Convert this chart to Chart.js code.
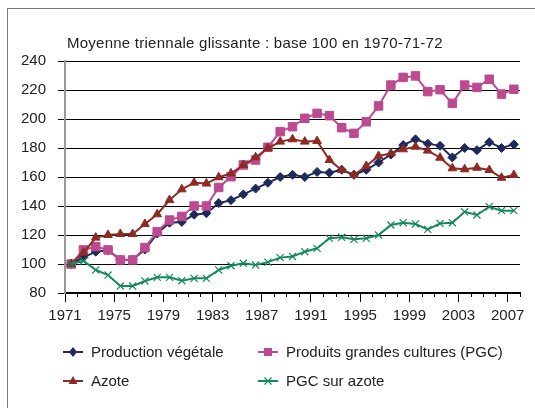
<!DOCTYPE html>
<html>
<head>
<meta charset="utf-8">
<script src="https://cdn.jsdelivr.net/npm/chart.js@4"></script>
<style>
  html, body { margin: 0; padding: 0; background: #fff; }
  #wrap { position: relative; width: 535px; height: 408px; overflow: hidden;
          font-family: "Liberation Sans", Arial, sans-serif; color: #222; }
  #frame { position: absolute; left: 7px; top: 8px; right: -5px; bottom: -5px;
           border: 1px solid #777; }
  #title { position: absolute; left: 67px; top: 34px; font-size: 15px; letter-spacing: 0.25px; white-space: nowrap; }
  #legend { position: absolute; left: 0; top: 0; width: 535px; height: 408px; pointer-events: none; }
  .leg { position: absolute; font-size: 15px; white-space: nowrap; display: flex; align-items: center; }
  .leg svg { margin-right: 8px; }
  canvas { position: absolute; left: 0; top: 0; }
</style>
</head>
<body>
<div id="wrap">
  <div id="frame"></div>
  <canvas id="chart" width="535" height="408"></canvas>
  <div id="title">Moyenne triennale glissante : base 100 en 1970-71-72</div>
  <div id="legend"></div>
</div>
<script>
const years = [1971, 1972, 1973, 1974, 1975, 1976, 1977, 1978, 1979, 1980,
  1981, 1982, 1983, 1984, 1985, 1986, 1987, 1988, 1989, 1990,
  1991, 1992, 1993, 1994, 1995, 1996, 1997, 1998, 1999, 2000,
  2001, 2002, 2003, 2004, 2005, 2006, 2007];

const productionVegetale = [100, 104.6, 108.5, 109.5, 103, 103, 110, 121, 128.5, 129,
  134, 135, 142, 144, 148, 152, 156, 160, 161.5, 160,
  163.5, 163, 165, 161.5, 165, 170, 175.5, 182, 186, 183,
  181.5, 173.5, 180, 178.5, 184, 180, 182.5];

const produitsGC = [100, 109.7, 112, 109.7, 102.8, 102.8, 111.3, 122.3, 130.3, 132.8,
  140, 140, 152.8, 160.2, 168.3, 171.7, 180.5, 191.3, 194.7, 200.5,
  203.9, 202.3, 194, 190.1, 198.1, 209, 223.4, 228.7, 229.7, 218.9,
  220.2, 210.8, 223.4, 221.8, 227.4, 217.2, 220.5];

const azote = [100, 107.8, 118.2, 120, 120.7, 120.7, 127.6, 134.3, 144.1, 151.5,
  156.1, 155.5, 159.8, 162.5, 168.3, 173.6, 179.8, 184.4, 186, 184.4,
  184.8, 171.7, 164.8, 161.4, 167.6, 174.5, 176.3, 179.1, 180.9, 178.2,
  173.3, 166, 165.3, 166.4, 164.8, 159.5, 161.4];

const pgcSurAzote = [100, 102.1, 95.9, 92.4, 84.8, 84.8, 88.3, 90.8, 90.8, 88.5,
  90.1, 90.1, 95.9, 98.8, 100.5, 99.3, 101.3, 104.4, 105.2, 108.5,
  110.8, 117.7, 118.4, 117, 117.7, 120, 126.9, 128.5, 127.6, 123.9,
  128, 128.5, 136, 133.8, 139.5, 136.8, 136.8];

const yTicks = [80, 100, 120, 140, 160, 180, 200, 220, 240];

const series = [
  { label: "Production végétale", data: productionVegetale, color: "#1f2a5c", style: "rectRot", radius: 4.5, order: 4 },
  { label: "Produits grandes cultures (PGC)", data: produitsGC, color: "#bc4a90", style: "rect", radius: 6, order: 3 },
  { label: "Azote", data: azote, color: "#8e2a24", style: "triangle", radius: 5, order: 2 },
  { label: "PGC sur azote", data: pgcSurAzote, color: "#14895a", style: "crossRot", radius: 5, order: 1 },
];

// points sit in the middle of each year slot, labels on the slot boundaries
const toPoints = (arr) => arr.map((v, i) => ({ x: i + 0.5, y: v }));

const minorTicks = {
  id: "minorTicks",
  afterDraw(chart) {
    const xs = chart.scales.x;
    const ctx = chart.ctx;
    ctx.save();
    ctx.strokeStyle = "#000";
    ctx.lineWidth = 1;
    for (let i = 0; i <= years.length; i++) {
      if (i % 4 === 0) continue;
      const px = Math.round(xs.getPixelForValue(i)) + 0.5;
      ctx.beginPath();
      ctx.moveTo(px, xs.top);
      ctx.lineTo(px, xs.top + 4);
      ctx.stroke();
    }
    ctx.restore();
  }
};

const font = { family: "'Liberation Sans', Arial, sans-serif", size: 15 };

new Chart(document.getElementById("chart").getContext("2d"), {
  type: "line",
  data: {
    datasets: series.map(s => ({
      label: s.label,
      data: toPoints(s.data),
      borderColor: s.color,
      backgroundColor: s.color,
      borderWidth: 2,
      pointStyle: s.style,
      pointRadius: s.radius,
      pointBorderWidth: s.style === "crossRot" ? 1.2 : 1,
      pointBackgroundColor: s.color,
      pointBorderColor: s.color,
      tension: 0,
      order: s.order,
    })),
  },
  options: {
    responsive: false,
    animation: false,
    layout: { padding: { top: 61, right: 15, left: 0, bottom: 0 } },
    plugins: { legend: { display: false }, tooltip: { enabled: false }, title: { display: false } },
    scales: {
      x: {
        type: "linear",
        min: 0,
        max: years.length,
        afterFit: (s) => { s.height = 115; },
        afterBuildTicks: (s) => { s.ticks = years.concat([0]).map((_, i) => ({ value: i })); },
        ticks: {
          autoSkip: false,
          maxRotation: 0,
          padding: 5,
          color: "#222",
          font,
          callback: (v) => (v % 4 === 0 && v < years.length ? String(years[v]) : ""),
        },
        grid: {
          drawOnChartArea: false,
          tickLength: 9,
          tickColor: (c) => (c.tick && c.tick.value % 4 === 0 ? "#000" : "rgba(0,0,0,0)"),
        },
        border: { color: "#000", width: 1.5 },
      },
      y: {
        min: 80,
        max: 240,
        afterFit: (s) => { s.width = 65; },
        afterBuildTicks: (s) => {
          const t = [];
          for (let v = 80; v <= 240; v += 10) t.push({ value: v });
          s.ticks = t;
        },
        ticks: {
          padding: 12,
          color: "#222",
          font,
          callback: (v) => (yTicks.includes(v) ? String(v) : ""),
        },
        grid: { color: "#000", lineWidth: 1, tickLength: 7 },
        border: { color: "#999", width: 2 },
      },
    },
  },
  plugins: [minorTicks],
});

// legend, two columns like the original
const legendPos = [
  { left: 63, top: 343 }, { left: 258, top: 343 },
  { left: 63, top: 372 }, { left: 258, top: 372 },
];
const legend = document.getElementById("legend");
series.forEach((s, i) => {
  const c = s.color;
  let mark = "";
  if (s.style === "rectRot") mark = `<polygon points="10,2 14,7 10,12 6,7" fill="${c}"/>`;
  if (s.style === "rect") mark = `<rect x="6" y="3" width="8" height="8" fill="${c}"/>`;
  if (s.style === "triangle") mark = `<polygon points="10,2 14.5,10 5.5,10" fill="${c}"/>`;
  if (s.style === "crossRot") mark = `<path d="M6.5 3.5 L13.5 10.5 M13.5 3.5 L6.5 10.5" stroke="${c}" stroke-width="1.2"/>`;
  const el = document.createElement("div");
  el.className = "leg";
  el.style.left = legendPos[i].left + "px";
  el.style.top = legendPos[i].top + "px";
  el.innerHTML = `<svg width="20" height="14"><line x1="0" y1="7" x2="20" y2="7" stroke="${c}" stroke-width="2"/>${mark}</svg><span>${s.label}</span>`;
  legend.appendChild(el);
});
</script>
</body>
</html>
